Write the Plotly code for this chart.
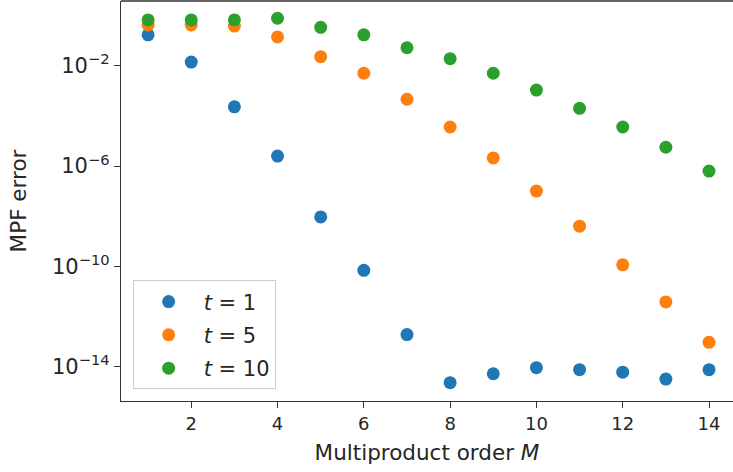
import plotly.graph_objects as go

orders = [1, 2, 3, 4, 5, 6, 7, 8, 9, 10, 11, 12, 13, 14]
err_t1 = [1.7e-1, 1.4e-2, 2.3e-4, 2.5e-6, 9.3e-9, 6.9e-11, 1.9e-13, 2.3e-15,
          5.2e-15, 9.1e-15, 7.6e-15, 6.0e-15, 3.2e-15, 7.6e-15]
err_t5 = [4.2e-1, 4.2e-1, 3.8e-1, 1.4e-1, 2.3e-2, 5.0e-3, 4.6e-4, 3.6e-5,
          2.1e-6, 1.0e-7, 4.0e-9, 1.15e-10, 3.8e-12, 9.3e-14]
err_t10 = [6.7e-1, 6.7e-1, 6.7e-1, 7.8e-1, 3.4e-1, 1.7e-1, 5.2e-2, 1.9e-2,
           5.0e-3, 1.07e-3, 2.0e-4, 3.6e-5, 5.6e-6, 6.3e-7]
series_names = ["<i>t</i> = 1", "<i>t</i> = 5", "<i>t</i> = 10"]
colors = ["#1f77b4", "#ff7f0e", "#2ca02c"]
x_ticks = [2, 4, 6, 8, 10, 12, 14]
y_ticks = [1e-2, 1e-6, 1e-10, 1e-14]
y_tick_text = ["10<sup>−2</sup>", "10<sup>−6</sup>", "10<sup>−10</sup>", "10<sup>−14</sup>"]

FONT = "DejaVu Sans"
TXT = "#262626"

fig = go.Figure()
for i, (name, ys) in enumerate(zip(series_names, [err_t1, err_t5, err_t10])):
    fig.add_trace(go.Scatter(
        x=orders, y=ys, mode="markers", name=name,
        legendgroup=str(i),
        marker=dict(color=colors[i], size=13, line=dict(width=0)),
    ))

fig.update_layout(
    width=733, height=472,
    margin=dict(l=121, r=0, t=1, b=71),
    paper_bgcolor="white", plot_bgcolor="white",
    font=dict(family=FONT, color=TXT, size=17),
    showlegend=True,
    legend=dict(
        x=0.019, y=0.029, xanchor="left", yanchor="bottom",
        bordercolor="#cccccc", borderwidth=1, bgcolor="rgba(255,255,255,0.8)",
        font=dict(family=FONT, size=21, color=TXT),
        tracegroupgap=3, itemwidth=60,
        entrywidth=145, entrywidthmode="pixels",
    ),
    xaxis=dict(
        range=[0.372, 14.556], tickvals=x_ticks, automargin=False,
        showline=True, linecolor="#333333", linewidth=1.3,
        ticks="outside", ticklen=6, tickcolor="#333333", tickwidth=1.2,
        showgrid=False, zeroline=False,
        tickfont=dict(size=18, color=TXT),
        title=dict(text="Multiproduct order <i>M</i>", font=dict(size=21.5, color=TXT), standoff=12),
    ),
    yaxis=dict(
        type="log", range=[-15.37, 0.58], automargin=False,
        tickvals=y_ticks, ticktext=y_tick_text,
        showline=True, linecolor="#333333", linewidth=1.3,
        ticks="outside", ticklen=6, tickcolor="#333333", tickwidth=1.2,
        showgrid=False, zeroline=False,
        tickfont=dict(size=21, color=TXT),
        title=dict(text="MPF error", font=dict(size=21.5, color=TXT), standoff=19),
    ),
    shapes=[dict(type="line", xref="paper", yref="paper", x0=0, x1=1, y0=1, y1=1,
                 line=dict(color="#333333", width=1.3))],
)

fig.write_html("out.html", config={"displayModeBar": False},
               post_script="document.body.style.margin='0';document.body.style.overflow='hidden';")
